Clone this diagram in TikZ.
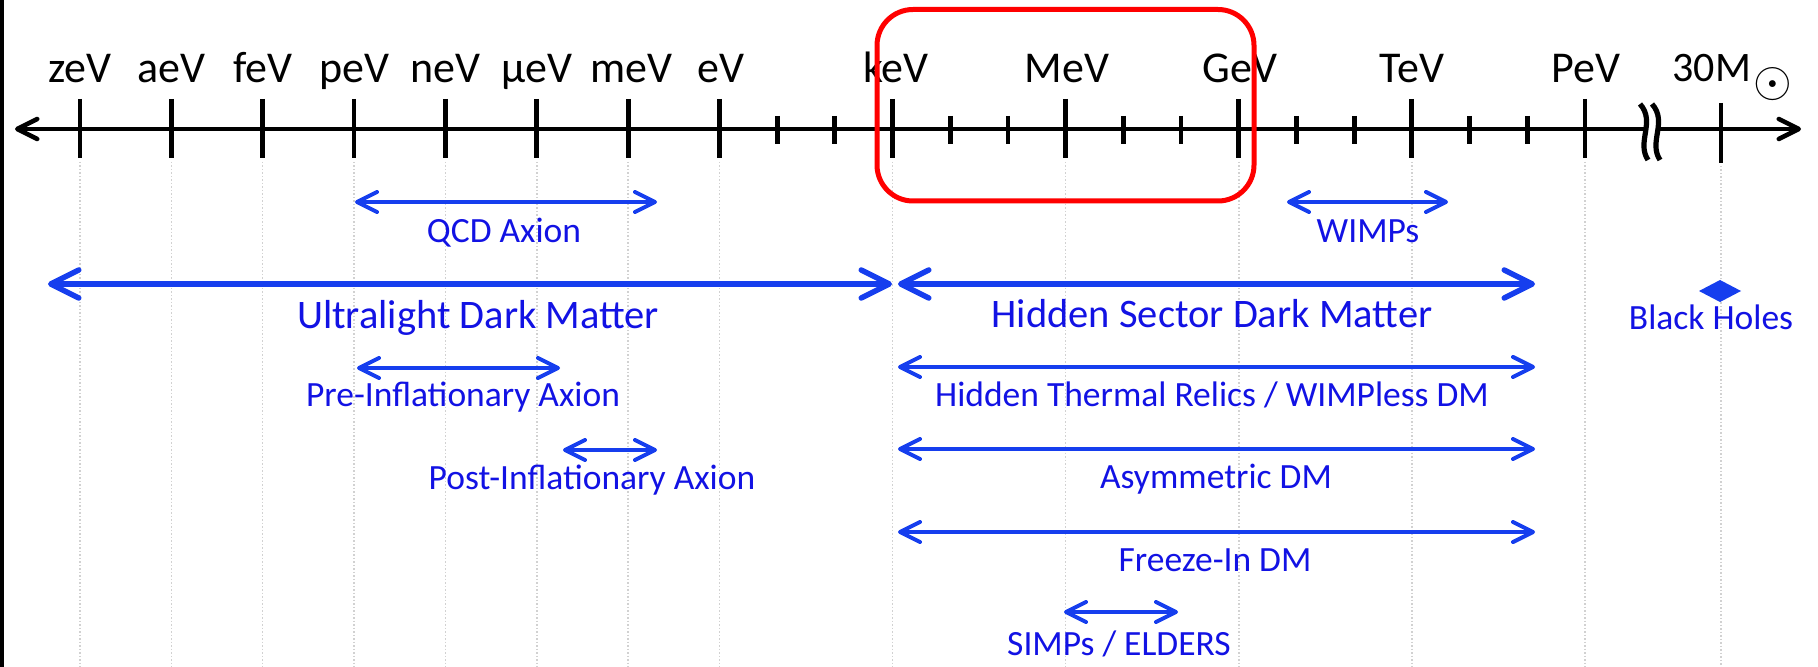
\documentclass[tikz,border=0pt]{standalone}
\usepackage{fontspec}
\setmainfont{Carlito}
\usetikzlibrary{arrows.meta}
\definecolor{txtblue}{RGB}{18,18,228}
\definecolor{arrblue}{RGB}{22,62,238}
\definecolor{boxred}{RGB}{255,0,0}
\begin{document}
\begin{tikzpicture}[x=0.5pt,y=-0.5pt,
  axislbl/.style={font=\fontsize{22}{24}\selectfont, anchor=base, inner sep=0pt},
  biglbl/.style={font=\fontsize{20.25}{22}\selectfont, text=txtblue, anchor=base, inner sep=0pt},
  smalllbl/.style={font=\fontsize{17.75}{20}\selectfont, text=txtblue, anchor=base, inner sep=0pt},
  axisline/.style={line width=2.25pt, {Straight Barb[length=10pt,width=10pt,round]}-{Straight Barb[length=10pt,width=10pt,round]}},
  tickln/.style={line width=2.4pt},
  gridln/.style={black!18, line width=0.75pt, densely dotted},
  bigrange/.style={draw=arrblue, line width=2.75pt, {Straight Barb[length=14pt,width=14pt,round]}-{Straight Barb[length=14pt,width=14pt,round]}},
  smallrange/.style={draw=arrblue, line width=2pt, {Straight Barb[length=10pt,width=10pt,round]}-{Straight Barb[length=10pt,width=10pt,round]}},
]
\useasboundingbox (0,0) rectangle (1818,667);
\fill[white] (0,0) rectangle (1818,667);
\fill[black] (0,0) rectangle (4,667);

% grid lines
\foreach \x in {80,171.35,262.7,354.05,445.4,536.75,628.1,719.45,892.55,1065.65,1238.75,1411.85,1584.95}
  \draw[gridln] (\x,162) -- (\x,667);
\draw[gridln] (1721,166) -- (1721,667);

% axis
\coordinate (axL) at (15,129);
\coordinate (axR) at (1801,129);
\draw[axisline] (axL) -- (axR);

% major ticks
\foreach \x in {80,171.35,262.7,354.05,445.4,536.75,628.1,719.45,892.55,1065.65,1238.75,1411.85,1584.95}
  \draw[tickln] (\x,99) -- (\x,158);
\draw[tickln] (1721,103) -- (1721,163);
% minor ticks
\foreach \x in {777.15,834.85,950.25,1007.95,1123.35,1181.05,1296.45,1354.15,1469.55,1527.25}
  \draw[tickln] (\x,116) -- (\x,144);

% axis break
\fill[white] (1640,104) .. controls (1656,122) and (1636,142) .. (1648,160) -- (1660,160) .. controls (1648,142) and (1668,122) .. (1652,104) -- cycle;
\draw[line width=2.6pt] (1640,104) .. controls (1656,122) and (1636,142) .. (1648,160);
\draw[line width=2.6pt] (1652,104) .. controls (1668,122) and (1648,142) .. (1660,160);

% axis labels
\node[axislbl] (lzeV) at (80,83) {zeV};
\node[axislbl] (laeV) at (171.35,83) {aeV};
\node[axislbl] (lfeV) at (262.7,83) {feV};
\node[axislbl] (lpeV) at (354.05,83) {peV};
\node[axislbl] (lneV) at (445.4,83) {neV};
\node[axislbl] (lmueV) at (536.75,83) {μeV};
\node[axislbl] (lmeV) at (631,83) {meV};
\node[axislbl] (leV) at (721,83) {eV};
\node[axislbl] (lkeV) at (896,83) {keV};
\node[axislbl] (lMeV) at (1067,83) {MeV};
\node[axislbl] (lGeV) at (1240,83) {GeV};
\node[axislbl] (lTeV) at (1412,83) {TeV};
\node[axislbl] (lPeV) at (1586,83) {PeV};
\node[font=\fontsize{21}{22}\selectfont, anchor=base west, inner sep=0pt] (l30M) at (1672,82) {30M};
\node[font=\fontsize{26}{28}\selectfont, inner sep=0pt] (lsun) at (1773,84) {$\odot$};

% red highlight box
\draw[boxred, line width=2.5pt, rounded corners=18pt] (877,9.5) rectangle (1254,201);

% ranges
\coordinate (qcdL) at (355,202);   \coordinate (qcdR) at (657,202);
\coordinate (wimpL) at (1287,202); \coordinate (wimpR) at (1448,202);
\coordinate (ulL) at (48,284);     \coordinate (ulR) at (892,284);
\coordinate (hsL) at (898,284);    \coordinate (hsR) at (1535,284);
\coordinate (preL) at (357,368);   \coordinate (preR) at (560,368);
\coordinate (htL) at (898,367);    \coordinate (htR) at (1535,367);
\coordinate (postL) at (563,450);  \coordinate (postR) at (657,450);
\coordinate (asL) at (898,449);    \coordinate (asR) at (1535,449);
\coordinate (fiL) at (898,532);    \coordinate (fiR) at (1535,532);
\coordinate (siL) at (1064,612);   \coordinate (siR) at (1178,612);

\draw[smallrange] (qcdL) -- (qcdR);
\draw[smallrange] (wimpL) -- (wimpR);
\draw[bigrange] (ulL) -- (ulR);
\draw[bigrange] (hsL) -- (hsR);
\draw[smallrange] (preL) -- (preR);
\draw[smallrange] (htL) -- (htR);
\draw[smallrange] (postL) -- (postR);
\draw[smallrange] (asL) -- (asR);
\draw[smallrange] (fiL) -- (fiR);
\draw[smallrange] (siL) -- (siR);

% black holes marker
\fill[arrblue] (1699,291) -- (1720,280) -- (1741,291) -- (1720,302) -- cycle;

% range labels
\node[smalllbl] (tqcd) at (504,243) {QCD Axion};
\node[smalllbl] (twimp) at (1368,243) {WIMPs};
\node[biglbl] (tul) at (478,329) {Ultralight Dark Matter};
\node[biglbl] (ths) at (1212,328) {Hidden Sector Dark Matter};
\node[smalllbl] (tbh) at (1711,330) {Black Holes};
\node[smalllbl] (tpre) at (463,407) {Pre-Inflationary Axion};
\node[smalllbl] (tht) at (1212,407) {Hidden Thermal Relics / WIMPless DM};
\node[smalllbl] (tpost) at (592,489) {Post-Inflationary Axion};
\node[smalllbl] (tas) at (1216,488) {Asymmetric DM};
\node[smalllbl] (tfi) at (1215,571) {Freeze-In DM};
\node[smalllbl] (tsi) at (1119,655) {SIMPs / ELDERS};
\end{tikzpicture}
\end{document}
